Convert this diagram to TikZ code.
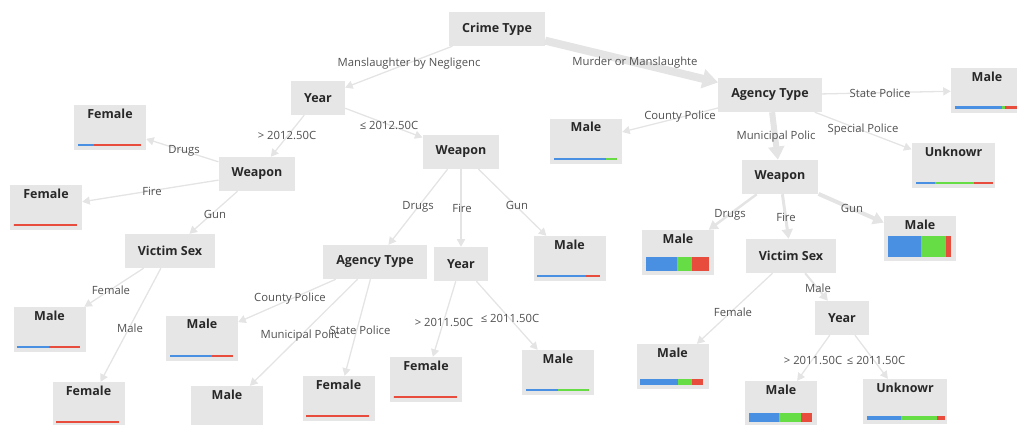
\documentclass[tikz,border=0pt]{standalone}
\usepackage{fontspec}
\setmainfont{Open Sans}
\usetikzlibrary{arrows.meta, calc}
\definecolor{boxgray}{RGB}{230,230,230}
\definecolor{edgegray}{RGB}{228,228,228}
\definecolor{titlegray}{RGB}{40,40,40}
\definecolor{labgray}{RGB}{80,80,80}
\definecolor{barblue}{RGB}{74,144,226}
\definecolor{bargreen}{RGB}{102,221,68}
\definecolor{barred}{RGB}{231,76,60}
\tikzset{
  splitbox/.style={fill=boxgray, text=titlegray, font=\bfseries\fontsize{12.5}{14}\selectfont, inner xsep=13pt, minimum height=34pt},
  leafbox/.style={splitbox, minimum width=72pt, minimum height=0pt, text height=9pt, text depth=28pt, inner ysep=4pt},
  link/.style={draw=edgegray, line width=#1, -{Triangle[length=6pt 1.2, width=6pt 1.6]}},
  link/.default=1.3pt,
  elabel/.style={text=labgray, font=\fontsize{11.3}{13}\selectfont, inner sep=0pt}
}
% class bar under a leaf: node, thickness, blue, green, red
\newcommand\leafbar[5]{%
  \fill[barblue] ($(#1.south west)+(4,-4)$) rectangle ++(#3,-#2);
  \fill[bargreen] ($(#1.south west)+(4+#3,-4)$) rectangle ++(#4,-#2);
  \fill[barred] ($(#1.south west)+(4+#3+#4,-4)$) rectangle ++(#5,-#2);}

\begin{document}
\begin{tikzpicture}[x=1pt, y=-1pt]
  \useasboundingbox (0,0) rectangle (1017,424);
  % split nodes
  \node[splitbox] (ct) at (497,29) {Crime Type};
  \node[splitbox] (yrA) at (318,98) {Year};
  \node[splitbox] (agA) at (770,95) {Agency Type};
  \node[splitbox] (wpA) at (257,174) {Weapon};
  \node[splitbox] (wpB) at (461,152) {Weapon};
  \node[splitbox] (wpC) at (780,177) {Weapon};
  \node[splitbox] (vsA) at (170,251) {Victim Sex};
  \node[splitbox] (vsB) at (791,256) {Victim Sex};
  \node[splitbox] (agB) at (375,262) {Agency Type};
  \node[splitbox] (yrB) at (461,264) {Year};
  \node[splitbox] (yrC) at (842,318) {Year};
  % leaves
  \node[leafbox] (lfA) at (110,127.5) {Female};
  \node[leafbox] (lfB) at (46,207.5) {Female};
  \node[leafbox] (lfC) at (49.5,329.5) {Male};
  \node[leafbox] (lfD) at (88.5,404.5) {Female};
  \node[leafbox] (lfE) at (202,338) {Male};
  \node[leafbox] (lfF) at (227,408.5) {Male};
  \node[leafbox] (lfG) at (338.5,398.5) {Female};
  \node[leafbox] (lfH) at (426,379.5) {Female};
  \node[leafbox] (lfI) at (558,372.5) {Male};
  \node[leafbox] (lfJ) at (569.5,258.5) {Male};
  \node[leafbox] (lfK) at (586,141) {Male};
  \node[leafbox] (lfL) at (987,90.5) {Male};
  \node[leafbox] (lfM) at (953.5,165.5) {Unknowr};
  \node[leafbox] (lfN) at (678,252.5) {Male};
  \node[leafbox] (lfO) at (920,238.5) {Male};
  \node[leafbox] (lfP) at (672.5,366.5) {Male};
  \node[leafbox] (lfQ) at (781,403.5) {Male};
  \node[leafbox] (lfR) at (905,401.5) {Unknowr};
  \leafbar{lfA}{1.8}{16}{0}{47}
  \leafbar{lfB}{1.8}{0}{0}{63}
  \leafbar{lfC}{1.8}{32}{0}{31}
  \leafbar{lfD}{1.8}{0}{0}{63}
  \leafbar{lfE}{1.8}{42}{0}{21}
  \leafbar{lfF}{1.8}{40}{0}{23}
  \leafbar{lfG}{1.8}{0}{0}{63}
  \leafbar{lfH}{1.8}{0}{0}{63}
  \leafbar{lfI}{1.8}{32}{31}{0}
  \leafbar{lfJ}{1.8}{49}{0}{14}
  \leafbar{lfK}{1.8}{52}{11}{0}
  \leafbar{lfL}{3}{47}{3}{14}
  \leafbar{lfM}{1.8}{19}{39}{19}
  \leafbar{lfN}{14}{31}{15}{17}
  \leafbar{lfO}{21}{33}{25}{5}
  \leafbar{lfP}{6}{38}{14}{11}
  \leafbar{lfQ}{9}{30}{22}{11}
  \leafbar{lfR}{4}{34}{36}{8}
  % connectors
  \draw[link] (ct) -- (yrA);
  \draw[link=8pt] (ct) -- (agA);
  \draw[link] (yrA) -- (wpA);
  \draw[link] (yrA) -- (wpB);
  \draw[link] (wpA) -- (lfA);
  \draw[link] (wpA) -- (lfB);
  \draw[link] (wpA) -- (vsA);
  \draw[link] (vsA) -- (lfC);
  \draw[link] (vsA) -- (lfD);
  \draw[link] (wpB) -- (agB);
  \draw[link] (wpB) -- (yrB);
  \draw[link] (wpB) -- (lfJ);
  \draw[link] (agB) -- (lfE);
  \draw[link] (agB) -- (lfF);
  \draw[link] (agB) -- (lfG);
  \draw[link] (yrB) -- (lfH);
  \draw[link] (yrB) -- (lfI);
  \draw[link] (agA) -- (lfK);
  \draw[link=6pt] (agA) -- (wpC);
  \draw[link] (agA) -- (lfL);
  \draw[link] (agA) -- (lfM);
  \draw[link=2.5pt] (wpC) -- (lfN);
  \draw[link=3pt] (wpC) -- (vsB);
  \draw[link=4pt] (wpC) -- (lfO);
  \draw[link] (vsB) -- (lfP);
  \draw[link=2pt] (vsB) -- (yrC);
  \draw[link] (yrC) -- (lfQ);
  \draw[link] (yrC) -- (lfR);
  % connector labels
  \node[elabel] (e1) at (409,64) {Manslaughter by Negligenc};
  \node[elabel] (e2) at (635,63) {Murder or Manslaughte};
  \node[elabel] (e3) at (287,135) {> 2012.50C};
  \node[elabel] (e4) at (389,125) {≤ 2012.50C};
  \node[elabel] (e5) at (184,151) {Drugs};
  \node[elabel] (e6) at (152,191) {Fire};
  \node[elabel] (e7) at (215,214) {Gun};
  \node[elabel] (e8) at (111,290) {Female};
  \node[elabel] (e9) at (130,328) {Male};
  \node[elabel] (e10) at (418,207) {Drugs};
  \node[elabel] (e11) at (462,208) {Fire};
  \node[elabel] (e12) at (517,205) {Gun};
  \node[elabel] (e13) at (290,299) {County Police};
  \node[elabel] (e14) at (300,336) {Municipal Polic};
  \node[elabel] (e15) at (360,330) {State Police};
  \node[elabel] (e16) at (444,322) {> 2011.50C};
  \node[elabel] (e17) at (510,318) {≤ 2011.50C};
  \node[elabel] (e18) at (680,117) {County Police};
  \node[elabel] (e19) at (776,137) {Municipal Polic};
  \node[elabel] (e20) at (880,93) {State Police};
  \node[elabel] (e21) at (863,130) {Special Police};
  \node[elabel] (e22) at (730,215) {Drugs};
  \node[elabel] (e23) at (786,217) {Fire};
  \node[elabel] (e24) at (852,208) {Gun};
  \node[elabel] (e25) at (733,312) {Female};
  \node[elabel] (e26) at (818,288) {Male};
  \node[elabel] (e27) at (813,360) {> 2011.50C};
  \node[elabel] (e28) at (876,360) {≤ 2011.50C};
\end{tikzpicture}
\end{document}
